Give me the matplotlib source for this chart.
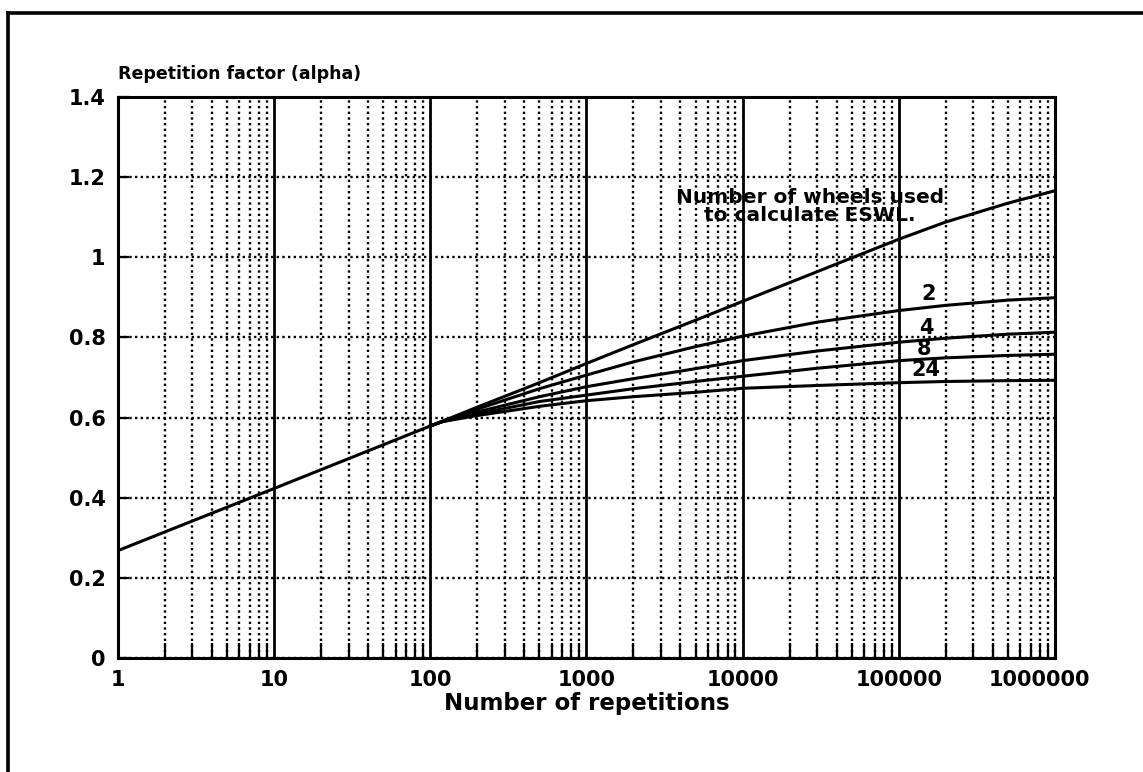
# Repetition factor (alpha) vs number of repetitions, for several wheel counts
import numpy as np
import matplotlib.pyplot as plt
from matplotlib.lines import Line2D
from matplotlib.ticker import LogLocator, NullFormatter

plt.rcParams['font.family'] = ['DejaVu Sans']
plt.rcParams['font.weight'] = 'bold'

# common straight part (same for all wheel counts)
reps_common = [1, 10, 100]
alpha_common = [0.268, 0.423, 0.579]

# branches after the split near 100 repetitions
reps_branch = [100, 120, 200, 500, 1000, 2000, 5000, 10000, 30000,
               100000, 200000, 500000, 1000000]
alpha_1 = [0.579, 0.591, 0.626, 0.687, 0.735, 0.782, 0.843, 0.890, 0.964,
           1.045, 1.088, 1.135, 1.166]
alpha_2 = [0.579, 0.591, 0.621, 0.672, 0.706, 0.739, 0.777, 0.803, 0.838,
           0.867, 0.880, 0.893, 0.899]
alpha_4 = [0.579, 0.590, 0.614, 0.652, 0.677, 0.697, 0.722, 0.742, 0.766,
           0.788, 0.798, 0.808, 0.813]
alpha_8 = [0.579, 0.590, 0.609, 0.640, 0.656, 0.672, 0.690, 0.703, 0.723,
           0.742, 0.749, 0.755, 0.758]
alpha_24 = [0.579, 0.590, 0.605, 0.628, 0.642, 0.652, 0.663, 0.673, 0.680,
            0.687, 0.690, 0.692, 0.693]

wheel_labels = ["2", "4", "8", "24"]
label_x = [1.55e5, 1.5e5, 1.45e5, 1.5e5]
label_y = [0.908, 0.824, 0.772, 0.718]

x_ticks = [1, 10, 100, 1000, 10000, 100000, 1000000]
x_tick_labels = ["1", "10", "100", "1000", "10000", "100000", "1000000"]
y_ticks = [0, 0.2, 0.4, 0.6, 0.8, 1.0, 1.2, 1.4]
y_tick_labels = ["0", "0.2", "0.4", "0.6", "0.8", "1", "1.2", "1.4"]

fig = plt.figure(figsize=(11.43, 7.72), dpi=100)
ax = fig.add_axes([0.1032, 0.1477, 0.8198, 0.7267])

ax.set_xscale("log")
ax.set_xlim(1, 1e6)
ax.set_ylim(0, 1.4)

# grid: solid decades, dotted minors and horizontals
ax.xaxis.set_minor_locator(LogLocator(base=10, subs=np.arange(2, 10), numticks=20))
ax.xaxis.set_minor_formatter(NullFormatter())
ax.grid(True, which="major", axis="x", color="black", lw=2.0, ls="-")
ax.grid(True, which="minor", axis="x", color="black", lw=1.7, ls=(0, (1, 1.4)))
ax.grid(True, which="major", axis="y", color="black", lw=1.7, ls=(0, (1, 1.4)))

ax.set_xticks(x_ticks)
ax.set_xticklabels([])
ax.set_yticks(y_ticks)
ax.set_yticklabels(y_tick_labels, fontsize=15, fontweight="bold")
ax.tick_params(axis="x", which="major", length=0)
ax.tick_params(axis="x", which="minor", direction="in", length=11, width=1.6)
ax.tick_params(axis="y", direction="in", length=8, width=1.6, pad=9)

for s in ax.spines.values():
    s.set_linewidth(2.2)

# manual x tick labels (last one sits a bit left of the edge)
x_shift = [0, 0, 0, 0, 0, 0, -0.1]
for xt, lab, sh in zip(x_ticks, x_tick_labels, x_shift):
    ax.text(xt * 10 ** sh, -0.055, lab, ha="center", va="center",
            fontsize=15, fontweight="bold")

# curves
ax.plot(reps_common, alpha_common, color="black", lw=2.2)
for vals in [alpha_1, alpha_2, alpha_4, alpha_8, alpha_24]:
    ax.plot(reps_branch, vals, color="black", lw=2.2)

for lx, ly, lab in zip(label_x, label_y, wheel_labels):
    ax.text(lx, ly, lab, ha="center", va="center", fontsize=15,
            fontweight="bold")

ax.text(2.7e4, 1.127, "Number of wheels used\nto calculate ESWL.",
        ha="center", va="center", fontsize=14.5, fontweight="bold",
        linespacing=0.95)

ax.text(0, 1.041, "Repetition factor (alpha)", transform=ax.transAxes,
        ha="left", va="center", fontsize=12.5, fontweight="bold")
ax.set_xlabel("Number of repetitions", fontsize=16.5, fontweight="bold",
              labelpad=21)

# outer frame (top and left edges only)
fig.add_artist(Line2D([8 / 1143, 1], [1 - 13 / 772, 1 - 13 / 772],
                      color="black", lw=2.6, transform=fig.transFigure))
fig.add_artist(Line2D([8 / 1143, 8 / 1143], [0, 1 - 13 / 772],
                      color="black", lw=2.6, transform=fig.transFigure))

fig.savefig("out.png", dpi=100)
